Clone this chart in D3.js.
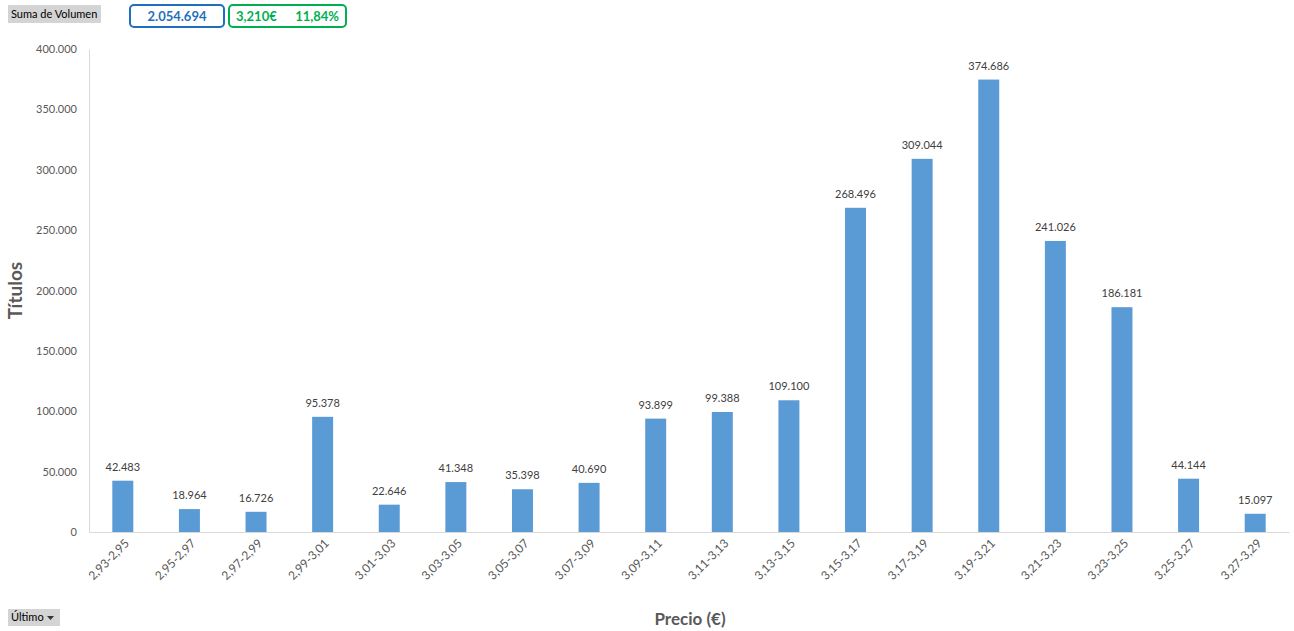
<!DOCTYPE html>
<html>
<head>
<meta charset="utf-8">
<script src="https://cdn.jsdelivr.net/npm/d3@7"></script>
<style>
  body { margin: 0; background: #fff; font-family: Lato, 'Open Sans', sans-serif; }
  svg { display: block; }
</style>
</head>
<body>
<figure style="margin:0"></figure>
<script>
const categories = ['2,93-2,95', '2,95-2,97', '2,97-2,99', '2,99-3,01', '3,01-3,03', '3,03-3,05',
  '3,05-3,07', '3,07-3,09', '3,09-3,11', '3,11-3,13', '3,13-3,15', '3,15-3,17',
  '3,17-3,19', '3,19-3,21', '3,21-3,23', '3,23-3,25', '3,25-3,27', '3,27-3,29']
const volumes = [42483, 18964, 16726, 95378, 22646, 41348, 35398, 40690, 93899, 99388,
  109100, 268496, 309044, 374686, 241026, 186181, 44144, 15097]
const yTicks = [0, 50000, 100000, 150000, 200000, 250000, 300000, 350000, 400000]
const totalLabel = '2.054.694'
const priceLabel = '3,210€'
const changeLabel = '11,84%'

const width = 1294
const height = 631
const margin = { top: 49, right: 5, bottom: 99, left: 89 }

const fmt = d3.formatLocale({ decimal: ',', thousands: '.', grouping: [3], currency: ['', '€'] }).format(',d')

const svg = d3.select('figure').append('svg')
  .attr('width', width)
  .attr('height', height)

const x = d3.scaleBand()
  .domain(categories)
  .range([margin.left, width - margin.right])
  .paddingInner(0.685)
  .paddingOuter(0.35)

const y = d3.scaleLinear()
  .domain([0, 400000])
  .range([height - margin.bottom, margin.top])

// y axis
const yAxis = svg.append('g')
  .attr('transform', `translate(${margin.left},0)`)
  .call(d3.axisLeft(y).tickValues(yTicks).tickFormat(fmt).tickSize(0).tickPadding(12))
yAxis.select('.domain').attr('stroke', '#d9d9d9')
yAxis.selectAll('text')
  .attr('fill', '#595959')
  .style('font-size', '11px')
  .style('font-family', 'Lato, sans-serif')

// x axis
const xAxis = svg.append('g')
  .attr('transform', `translate(0,${height - margin.bottom})`)
  .call(d3.axisBottom(x).tickSize(0).tickSizeOuter(0))
xAxis.select('.domain').attr('stroke', '#d9d9d9')
xAxis.selectAll('text')
  .attr('fill', '#595959')
  .style('font-size', '12px')
  .style('font-family', 'Lato, sans-serif')
  .attr('text-anchor', 'end')
  .attr('dy', 0)
  .attr('transform', 'translate(5,10) rotate(-45)')

// bars
svg.append('g')
  .selectAll('rect')
  .data(volumes)
  .join('rect')
  .attr('x', (d, i) => x(categories[i]))
  .attr('y', d => y(d))
  .attr('width', x.bandwidth())
  .attr('height', d => y(0) - y(d))
  .attr('fill', '#5b9bd5')

// data labels
svg.append('g')
  .selectAll('text')
  .data(volumes)
  .join('text')
  .attr('x', (d, i) => x(categories[i]) + x.bandwidth() / 2)
  .attr('y', d => y(d) - 10)
  .attr('text-anchor', 'middle')
  .attr('fill', '#404040')
  .style('font-size', '11px')
  .text(d => fmt(d))

// axis titles
svg.append('text')
  .attr('transform', `translate(22,${(margin.top + height - margin.bottom) / 2}) rotate(-90)`)
  .attr('text-anchor', 'middle')
  .attr('fill', '#595959')
  .style('font-size', '19px')
  .style('font-weight', 'bold')
  .text('Títulos')

svg.append('text')
  .attr('x', 690)
  .attr('y', 625)
  .attr('text-anchor', 'middle')
  .attr('fill', '#595959')
  .style('font-size', '17px')
  .style('font-weight', 'bold')
  .text('Precio (€)')

// pivot field buttons
const button = (bx, by, w, h, label, arrow) => {
  const g = svg.append('g')
  g.append('rect')
    .attr('x', bx).attr('y', by).attr('width', w).attr('height', h)
    .attr('fill', '#d4d4d4')
  g.append('text')
    .attr('x', bx + 3).attr('y', by + h - 5)
    .attr('fill', '#000')
    .style('font-size', '11px')
    .text(label)
  if (arrow) {
    g.append('path')
      .attr('d', `M${bx + w - 13},${by + 7} l7,0 l-3.5,4 z`)
      .attr('fill', '#333')
  }
}
button(8, 5, 93, 18, 'Suma de Volumen', false)
button(8, 609, 52, 17, 'Último', true)

// summary boxes
svg.append('rect')
  .attr('x', 130).attr('y', 5).attr('width', 94).attr('height', 22)
  .attr('rx', 4)
  .attr('fill', '#fff')
  .attr('stroke', '#1f6fbf')
  .attr('stroke-width', 2)
svg.append('text')
  .attr('x', 177).attr('y', 21)
  .attr('text-anchor', 'middle')
  .attr('fill', '#1f6fbf')
  .style('font-size', '13px')
  .style('font-weight', 'bold')
  .text(totalLabel)

svg.append('rect')
  .attr('x', 229).attr('y', 5).attr('width', 117).attr('height', 22)
  .attr('rx', 4)
  .attr('fill', '#fff')
  .attr('stroke', '#00b050')
  .attr('stroke-width', 2)
svg.append('text')
  .attr('x', 236).attr('y', 21)
  .attr('fill', '#00b050')
  .style('font-size', '13px')
  .style('font-weight', 'bold')
  .text(priceLabel)
svg.append('text')
  .attr('x', 339).attr('y', 21)
  .attr('text-anchor', 'end')
  .attr('fill', '#00b050')
  .style('font-size', '13px')
  .style('font-weight', 'bold')
  .text(changeLabel)
</script>
</body>
</html>
